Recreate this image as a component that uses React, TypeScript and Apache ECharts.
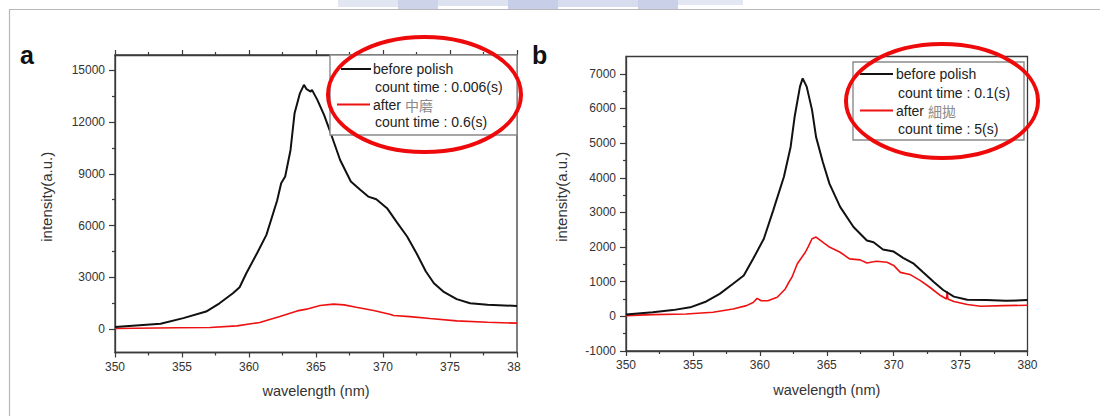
import React, { useEffect, useRef } from 'react';
import * as echarts from 'echarts';

// Panel a
const aBeforeWave = [350, 353.4, 355.1, 356.8, 357.8, 358.8, 359.3, 359.8, 360.6, 361.3, 362.1, 362.4, 362.7, 363.1, 363.4, 363.8, 364.1, 364.3, 364.6, 364.7, 365.1, 365.6, 366.1, 366.8, 367.6, 368.3, 368.9, 369.5, 370.3, 371.0, 371.8, 372.5, 373.2, 373.8, 374.5, 375.5, 376.5, 377.8, 380];
const aBeforeInt = [120, 310, 640, 1020, 1500, 2080, 2430, 3240, 4400, 5460, 7450, 8450, 8840, 10380, 12500, 13660, 14150, 13900, 13760, 13860, 13280, 12410, 11350, 9800, 8550, 8070, 7680, 7530, 7010, 6230, 5370, 4400, 3340, 2660, 2180, 1740, 1500, 1410, 1350];
const aAfterWave = [350, 354.6, 357.1, 359.1, 360.8, 362.3, 363.6, 364.3, 365.3, 366.3, 367.1, 368.0, 369.3, 370.5, 370.8, 372.0, 373.5, 375.5, 377.8, 380];
const aAfterInt = [40, 80, 100, 190, 390, 730, 1060, 1160, 1370, 1450, 1410, 1270, 1080, 870, 790, 730, 620, 480, 400, 350];

// Panel b
const bBeforeWave = [350, 352, 353.5, 354.8, 356, 357, 358, 358.8, 359.5, 360.3, 361, 361.8, 362.3, 362.6, 363, 363.2, 363.5, 363.9, 364.2, 364.7, 365.2, 366, 367, 368, 368.5, 369.2, 370, 370.7, 371.5, 372.2, 373, 373.7, 374.5, 375.5, 376.9, 378.4, 380];
const bBeforeInt = [50, 120, 180, 260, 430, 650, 940, 1180, 1660, 2240, 3060, 4030, 4890, 5760, 6630, 6870, 6630, 5960, 5180, 4460, 3830, 3160, 2580, 2190, 2140, 1930, 1870, 1690, 1520, 1270, 990, 760, 570, 480, 470, 450, 470];
const bAfterWave = [350, 352, 354.5, 356.5, 358, 359, 359.5, 359.8, 360.1, 360.6, 361.3, 361.9, 362.1, 362.4, 362.8, 363.4, 363.6, 363.9, 364.2, 364.7, 365.2, 366, 366.7, 367.5, 368, 368.7, 369.5, 370, 370.5, 371.2, 372, 372.7, 373.5, 373.95, 374, 374.05, 374.5, 375.5, 376.5, 378.2, 380];
const bAfterInt = [20, 50, 70, 120, 210, 310, 400, 520, 450, 450, 550, 790, 940, 1130, 1520, 1850, 2000, 2240, 2290, 2140, 2000, 1850, 1660, 1630, 1540, 1590, 1560, 1470, 1270, 1210, 1030, 840, 600, 500, 720, 500, 430, 340, 290, 310, 320];

const aYMajor = [0, 3000, 6000, 9000, 12000, 15000];
const aYMinor = [1500, 4500, 7500, 10500, 13500];
const bYMajor = [-1000, 0, 1000, 2000, 3000, 4000, 5000, 6000, 7000];
const bYMinor = [-500, 500, 1500, 2500, 3500, 4500, 5500, 6500];

const seriesNames = ['before polish', 'after'];
const aLegendLines = ['before polish', 'count time : 0.006(s)', 'after ', 'count time : 0.6(s)'];
const bLegendLines = ['before polish', 'count time : 0.1(s)', 'after ', 'count time : 5(s)'];
const aAfterCjk = '中磨';
const bAfterCjk = '細拋';

const FONT = '"Liberation Sans", Arial, sans-serif';
const AX = '#3a3a3a';

const pairs = (xs: number[], ys: number[]) => xs.map((x, i) => [x, ys[i]]);

function xAxisBase(gridIndex: number, position: 'bottom' | 'top', labels: boolean, clipLast: boolean) {
  return {
    type: 'value',
    gridIndex,
    position,
    min: 350,
    max: 380,
    interval: 5,
    axisLine: { show: true, onZero: false, lineStyle: { color: AX, width: 1.3 } },
    axisTick: { show: true, length: 5, lineStyle: { color: AX, width: 1.2 } },
    minorTick: { show: true, splitNumber: 2, length: 3, lineStyle: { color: AX, width: 1.2 } },
    splitLine: { show: false },
    axisLabel: {
      show: labels,
      margin: 8,
      fontFamily: FONT,
      fontSize: 12,
      color: '#333',
      formatter: (v: number) => (clipLast && v === 380 ? '{c|38}' : String(v)),
      rich: { c: { fontFamily: FONT, fontSize: 12, color: '#333', padding: [0, 6, 0, 0] } },
    },
    name: labels ? 'wavelength (nm)' : '',
    nameLocation: 'middle',
    nameGap: 31,
    nameTextStyle: { fontFamily: FONT, fontSize: 14.5, color: '#333' },
  };
}

function yAxisPair(gridIndex: number, min: number, max: number, major: number[], minor: number[], nameGap: number) {
  return [
    {
      type: 'value', gridIndex, position: 'left', min, max,
      axisLine: { show: true, onZero: false, lineStyle: { color: AX, width: 1.3 } },
      axisTick: { show: true, length: 6, customValues: major, lineStyle: { color: AX, width: 1.2 } },
      axisLabel: { show: true, customValues: major, margin: 10, fontFamily: FONT, fontSize: 12, color: '#333', formatter: (v: number) => String(v) },
      splitLine: { show: false },
      name: 'intensity(a.u.)', nameLocation: 'middle', nameGap,
      nameTextStyle: { fontFamily: FONT, fontSize: 15, color: '#333', padding: [0, 0, 0, 14] },
    },
    {
      type: 'value', gridIndex, position: 'left', min, max,
      axisLine: { show: false },
      axisTick: { show: true, length: 3, customValues: minor, lineStyle: { color: AX, width: 1.2 } },
      axisLabel: { show: false },
      splitLine: { show: false },
    },
  ];
}

function legendGraphics(box: number[], lineX: number[], redX: number[], textX: number, subX: number, rows: number[], lines: string[], cjk: string) {
  const t = (x: number, y: number, text: string, rich?: any) => ({
    type: 'text', x, y, z: 20,
    style: { text, fontFamily: FONT, fontSize: 14, fill: '#222', verticalAlign: 'middle', align: 'left', rich },
  });
  return [
    { type: 'rect', z: 15, shape: { x: box[0], y: box[1], width: box[2], height: box[3] }, style: { fill: '#fff', stroke: '#8a8a8a', lineWidth: 1.4 } },
    { type: 'line', z: 20, shape: { x1: lineX[0], y1: rows[0], x2: lineX[1], y2: rows[0] }, style: { stroke: '#111', lineWidth: 2 } },
    { type: 'line', z: 20, shape: { x1: redX[0], y1: rows[2], x2: redX[1], y2: rows[2] }, style: { stroke: '#ee1111', lineWidth: 1.8 } },
    t(textX, rows[0], lines[0]),
    t(subX, rows[1], lines[1]),
    t(textX, rows[2], lines[2] + '{g|' + cjk + '}', { g: { fontFamily: '"Noto Sans CJK TC", sans-serif', fontSize: 14, fill: '#8a8a8a' } }),
    t(subX, rows[3], lines[3]),
  ];
}

export default function App() {
  const ref = useRef<HTMLDivElement>(null);
  useEffect(() => {
    document.body.style.margin = '0';
    const chart = echarts.init(ref.current as HTMLDivElement, null, { renderer: 'svg' });
    const watermark = [
      [338, 0, 60, 7, '#e2e6f3'], [398, 0, 40, 9, '#cdd4ea'], [438, 0, 70, 6, '#dde2f1'],
      [508, 0, 50, 9, '#c6cee8'], [558, 0, 80, 7, '#d7dcef'], [638, 0, 40, 9, '#c9d0e8'],
      [678, 0, 65, 5, '#e3e7f4'],
    ].map((r: any[]) => ({ type: 'rect', z: 1, shape: { x: r[0], y: r[1], width: r[2], height: r[3] }, style: { fill: r[4] } }));
    const option: any = {
      animation: false,
      backgroundColor: '#fff',
      textStyle: { fontFamily: FONT },
      grid: [
        { left: 115, top: 55, width: 402, height: 297.5, show: true, borderColor: AX, borderWidth: 1.3, backgroundColor: 'transparent' },
        { left: 626, top: 56.5, width: 401.5, height: 294.5, show: true, borderColor: AX, borderWidth: 1.3, backgroundColor: 'transparent' },
      ],
      xAxis: [
        xAxisBase(0, 'bottom', true, true),
        xAxisBase(0, 'top', false, false),
        xAxisBase(1, 'bottom', true, false),
      ],
      yAxis: [
        ...yAxisPair(0, -1350, 15880, aYMajor, aYMinor, 61),
        ...yAxisPair(1, -1000, 7500, bYMajor, bYMinor, 57),
      ],
      series: [
        { name: seriesNames[0], type: 'line', xAxisIndex: 0, yAxisIndex: 0, showSymbol: false, z: 3, data: pairs(aBeforeWave, aBeforeInt), lineStyle: { color: '#111', width: 2 } },
        { name: seriesNames[1], type: 'line', xAxisIndex: 0, yAxisIndex: 0, showSymbol: false, z: 2, data: pairs(aAfterWave, aAfterInt), lineStyle: { color: '#ee1111', width: 1.6 } },
        { name: seriesNames[0], type: 'line', xAxisIndex: 2, yAxisIndex: 2, showSymbol: false, z: 3, data: pairs(bBeforeWave, bBeforeInt), lineStyle: { color: '#111', width: 2 } },
        { name: seriesNames[1], type: 'line', xAxisIndex: 2, yAxisIndex: 2, showSymbol: false, z: 2, data: pairs(bAfterWave, bAfterInt), lineStyle: { color: '#ee1111', width: 1.6 } },
      ],
      graphic: [
        ...watermark,
        { type: 'line', z: 2, shape: { x1: 9, y1: 9.5, x2: 1100, y2: 9.5 }, style: { stroke: '#b8b8b8', lineWidth: 1.2 } },
        { type: 'line', z: 2, shape: { x1: 9.5, y1: 9.5, x2: 9.5, y2: 416 }, style: { stroke: '#b8b8b8', lineWidth: 1.2 } },
        { type: 'text', x: 20, y: 42, z: 5, style: { text: 'a', fontFamily: FONT, fontWeight: 'bold', fontSize: 25, fill: '#111', verticalAlign: 'alphabetic' } },
        { type: 'text', x: 532, y: 42, z: 5, style: { text: 'b', fontFamily: FONT, fontWeight: 'bold', fontSize: 25, fill: '#111', verticalAlign: 'alphabetic' } },
        ...legendGraphics([330, 55, 187, 80], [341, 371], [337, 370], 373, 375, [69, 86.5, 104.5, 122], aLegendLines, aAfterCjk),
        ...legendGraphics([853, 62, 171, 78], [860, 893], [860, 893], 896, 898, [74, 92.5, 110.5, 128.5], bLegendLines, bAfterCjk),
        { type: 'ellipse', z: 30, shape: { cx: 424.5, cy: 94.5, rx: 96.5, ry: 57.5 }, style: { fill: 'none', stroke: '#ee0a0a', lineWidth: 4 } },
        { type: 'ellipse', z: 30, shape: { cx: 942, cy: 101, rx: 96, ry: 57 }, style: { fill: 'none', stroke: '#ee0a0a', lineWidth: 4 } },
      ],
    };
    chart.setOption(option);
    return () => chart.dispose();
  }, []);
  return <div ref={ref} style={{ width: 1100, height: 416 }} />;
}
